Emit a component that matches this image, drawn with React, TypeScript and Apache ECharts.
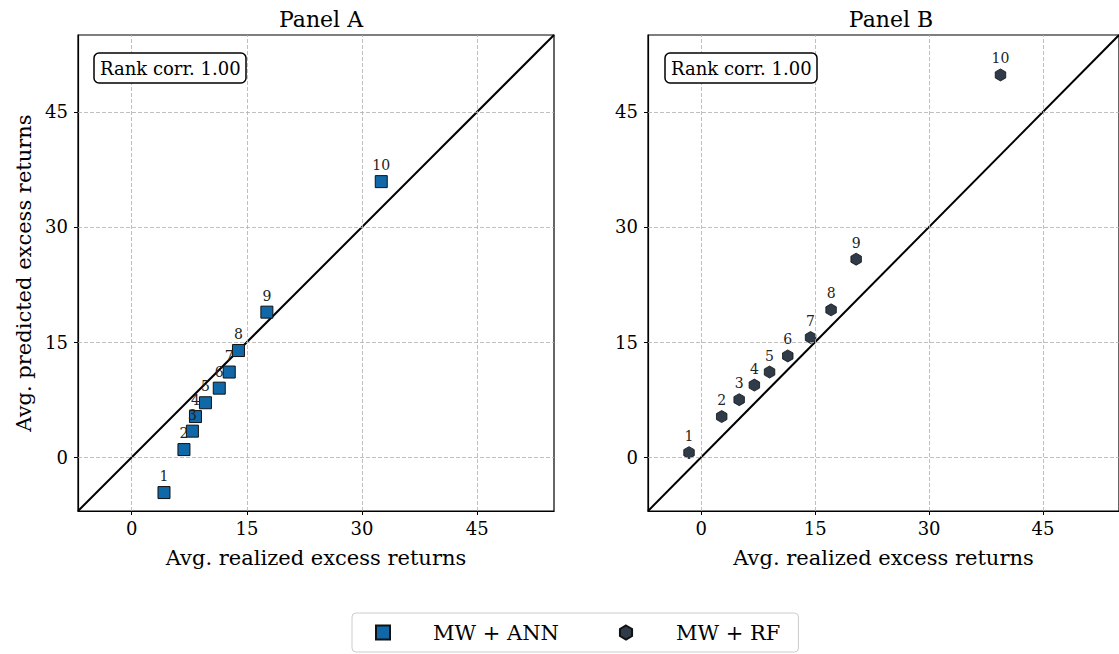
import React, { useEffect, useRef } from "react";
import * as echarts from "echarts";

const pointLabels = ["1", "2", "3", "4", "5", "6", "7", "8", "9", "10"];
const annX = [4.2, 6.8, 7.9, 8.3, 9.6, 11.4, 12.7, 13.9, 17.6, 32.5];
const annY = [-4.6, 1.0, 3.4, 5.3, 7.1, 9.0, 11.1, 13.9, 18.9, 35.9];
const rfX = [-1.6, 2.7, 5.0, 7.0, 9.0, 11.4, 14.4, 17.1, 20.4, 39.4];
const rfY = [0.6, 5.3, 7.5, 9.4, 11.1, 13.2, 15.6, 19.2, 25.8, 49.8];
const tickValues = [0, 15, 30, 45];
const axisMin = -7;
const axisMax = 55;
const panelTitles = ["Panel A", "Panel B"];
const rankCorr = ["Rank corr. 1.00", "Rank corr. 1.00"];
const seriesNames = ["MW + ANN", "MW + RF"];

const FONT = "DejaVu Serif";
const HEX = "path://M0,-10 L8.66,-5 L8.66,5 L0,10 L-8.66,5 L-8.66,-5 Z";

export default function App() {
  const ref = useRef<HTMLDivElement>(null);
  useEffect(() => {
    if (!ref.current) return;
    const chart = echarts.init(ref.current, null, { renderer: "svg" });
    const grids = [
      { left: 78, top: 35, width: 476, height: 476 },
      { left: 648, top: 35, width: 476, height: 476 },
    ];
    const xAxes = [0, 1].map((i) => ({
      type: "value",
      gridIndex: i,
      min: axisMin,
      max: axisMax,
      name: "Avg. realized excess returns",
      nameLocation: "middle",
      nameGap: 36,
      nameTextStyle: { fontFamily: FONT, fontSize: 21, color: "#000" },
      axisLine: { show: true, onZero: false, lineStyle: { color: "#000", width: 1.2 } },
      axisTick: { show: true, length: 4, customValues: tickValues, lineStyle: { color: "#000" } },
      axisLabel: { customValues: tickValues, margin: 8, fontFamily: FONT, fontSize: 18, color: "#000" },
      splitLine: { show: false },
    }));
    const yAxes = [0, 1].map((i) => ({
      type: "value",
      gridIndex: i,
      min: axisMin,
      max: axisMax,
      name: i === 0 ? "Avg. predicted excess returns" : "",
      nameLocation: "middle",
      nameGap: 44,
      nameTextStyle: { fontFamily: FONT, fontSize: 21, color: "#000" },
      axisLine: { show: true, onZero: false, lineStyle: { color: "#000", width: 1.2 } },
      axisTick: { show: true, length: 4, customValues: tickValues, lineStyle: { color: "#000" } },
      axisLabel: { customValues: tickValues, margin: 10, fontFamily: FONT, fontSize: 18, color: "#000" },
      splitLine: { show: false },
    }));
    const gridLineSeries = [0, 1].map((i) => ({
      type: "scatter",
      xAxisIndex: i,
      yAxisIndex: i,
      data: [],
      silent: true,
      z: 1,
      markLine: {
        silent: true,
        symbol: "none",
        label: { show: false },
        lineStyle: { color: "#b0b0b0", type: [4, 2], width: 0.8 },
        data: [
          ...tickValues.map((v) => ({ xAxis: v })),
          ...tickValues.map((v) => ({ yAxis: v })),
        ],
      },
    }));
    const diagSeries = [0, 1].map((i) => ({
      type: "line",
      xAxisIndex: i,
      yAxisIndex: i,
      data: [
        [axisMin, axisMin],
        [axisMax, axisMax],
      ],
      symbol: "none",
      silent: true,
      z: 2,
      lineStyle: { color: "#000", width: 2 },
    }));
    const labelStyle = {
      show: true,
      position: "top",
      distance: 3,
      formatter: "{b}",
      fontFamily: FONT,
      fontSize: 14,
      color: "#222",
    };
    chart.setOption({
      animation: false,
      grid: grids.map((g) => ({ ...g, show: true, borderColor: "#000", borderWidth: 1.2, backgroundColor: "transparent" })),
      title: [
        { text: panelTitles[0], left: 316, top: 3, textAlign: "center", textStyle: { fontFamily: FONT, fontSize: 22, fontWeight: "normal", color: "#000" } },
        { text: panelTitles[1], left: 886, top: 3, textAlign: "center", textStyle: { fontFamily: FONT, fontSize: 22, fontWeight: "normal", color: "#000" } },
        ...[94, 665].map((l, i) => ({
          text: rankCorr[i],
          left: l,
          top: 53,
          padding: [6, 6, 6, 6],
          borderColor: "#000",
          borderWidth: 1.5,
          borderRadius: 5,
          backgroundColor: "#fff",
          textStyle: { fontFamily: FONT, fontSize: 18, fontWeight: "normal", color: "#000" },
        })),
      ],
      legend: {
        data: seriesNames,
        left: 352,
        top: 613,
        padding: [9, 18, 9, 23],
        itemGap: 60,
        itemWidth: 14,
        itemHeight: 14,
        borderColor: "#cccccc",
        borderWidth: 1,
        borderRadius: 4,
        textStyle: { fontFamily: FONT, fontSize: 21, color: "#000", padding: [0, 0, 0, 38] },
      },
      xAxis: xAxes,
      yAxis: yAxes,
      series: [
        ...gridLineSeries,
        ...diagSeries,
        {
          name: seriesNames[0],
          type: "scatter",
          xAxisIndex: 0,
          yAxisIndex: 0,
          symbol: "rect",
          symbolSize: 12,
          z: 3,
          itemStyle: { color: "#1068a8", borderColor: "#111", borderWidth: 1, opacity: 1 },
          label: labelStyle,
          data: annX.map((x, i) => ({ value: [x, annY[i]], name: pointLabels[i] })),
        },
        {
          name: seriesNames[1],
          type: "scatter",
          xAxisIndex: 1,
          yAxisIndex: 1,
          symbol: HEX,
          symbolSize: [10.5, 12],
          z: 3,
          itemStyle: { color: "#2f3b48", borderColor: "#111", borderWidth: 0.8, opacity: 1 },
          label: labelStyle,
          data: rfX.map((x, i) => ({ value: [x, rfY[i]], name: pointLabels[i] })),
        },
      ],
    });
    return () => chart.dispose();
  }, []);
  return (
    <div
      ref={ref}
      style={{ position: "absolute", left: 0, top: 0, width: 1119, height: 654, background: "#fff" }}
    />
  );
}
